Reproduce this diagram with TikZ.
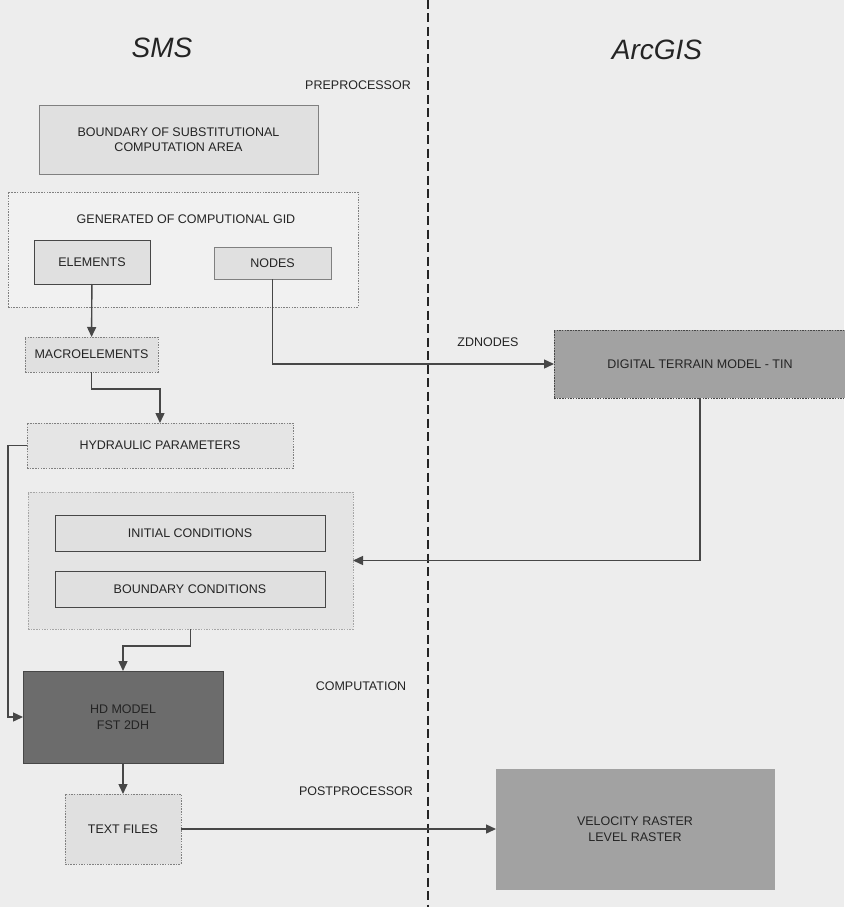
\documentclass[tikz,border=0pt]{standalone}
\usepackage{fontspec}
\setmainfont{Liberation Sans}
\usepackage{xcolor}
\usetikzlibrary{arrows.meta}

\definecolor{paper}{HTML}{EDEDED}
\definecolor{ink}{HTML}{242424}
\definecolor{wire}{HTML}{474747}
\definecolor{light}{HTML}{E0E0E0}
\definecolor{mid}{HTML}{A2A2A2}
\definecolor{dark}{HTML}{6C6C6C}

\begin{document}
\begin{tikzpicture}[x=1pt, y=-1pt, >={Triangle[length=10pt,width=9pt]},
    lbl/.style={text=ink, font=\fontsize{12.5}{15.5}\selectfont, inner sep=0pt},
    head/.style={text=ink, font=\fontsize{28}{32}\selectfont\itshape, inner sep=0pt},
    box/.style={lbl, draw=#1, line width=0.9pt, outer sep=0pt, align=center},
    dotbox/.style={box=#1, dash pattern=on 1.5pt off 1.2pt},
    link/.style={draw=wire, line width=1.4pt}]

    \fill[paper] (0,0) rectangle (844,907);
    \useasboundingbox (0,0) rectangle (844,907);

    \coordinate (ltop) at (428,0);
    \coordinate (lbot) at (428,907);
    \draw[line width=2.2pt, ink, dash pattern=on 9pt off 4.5pt] (ltop) -- (lbot);

    \node[head] (sms) at (162,48) {SMS};
    \node[head] (arcgis) at (657,50) {ArcGIS};
    \node[lbl] (pre) at (358,85) {PREPROCESSOR};
    \node[lbl] (zdn) at (488,342) {ZDNODES};
    \node[lbl] (comp) at (361,686) {COMPUTATION};
    \node[lbl] (post) at (356,791) {POSTPROCESSOR};

    \node[box=gray, fill=light, minimum width=279, minimum height=69] (bnd) at (178.5,139.5) {BOUNDARY OF SUBSTITUTIONAL\\COMPUTATION AREA};
    \node[dotbox=gray, fill=paper!80!white, minimum width=350, minimum height=115] (gen) at (183,249.5) {};
    \node[lbl] (genttl) at (186,219) {GENERATED OF COMPUTIONAL GID};
    \node[box=wire, fill=light, minimum width=116, minimum height=44] (elem) at (92,262) {ELEMENTS};
    \node[box=gray, fill=light, minimum width=117, minimum height=32] (nds) at (272.5,263) {NODES};
    \node[dotbox=gray, fill=light, minimum width=133, minimum height=35] (macro) at (91.5,354.5) {MACROELEMENTS};
    \node[dotbox=gray, fill=light!60!paper, minimum width=266, minimum height=45] (hyd) at (160,445.5) {HYDRAULIC PARAMETERS};
    \node[dotbox=gray!70, fill=light!70!paper, minimum width=325, minimum height=137] (cond) at (190.5,560.5) {};
    \node[box=wire, fill=light, minimum width=270, minimum height=36] (init) at (190,533) {INITIAL CONDITIONS};
    \node[box=wire, fill=light, minimum width=270, minimum height=36] (bcond) at (190,589) {BOUNDARY CONDITIONS};
    \node[box=wire, fill=dark, minimum width=200, minimum height=92] (hd) at (123,717) {HD MODEL\\FST 2DH};
    \node[dotbox=gray, fill=light, minimum width=116, minimum height=70] (txt) at (123,829) {TEXT FILES};
    \node[dotbox=wire, fill=mid, minimum width=292, minimum height=68] (dtm) at (700,364) {DIGITAL TERRAIN MODEL - TIN};
    \node[box=mid, fill=mid, minimum width=278, minimum height=120] (vel) at (635,829) {VELOCITY RASTER\\LEVEL RASTER};

    \draw[link, ->] (elem) -- (macro);
    \draw[link, ->] (macro.south) -- ++(0,17) -| (hyd.north);
    \draw[link, ->] (nds.south) |- (dtm.west);
    \draw[link, ->] (dtm.south) |- (cond.east);
    \draw[link, ->] (hyd.west) -- ++(-19,0) |- (hd.west);
    \draw[link, ->] (cond.south) -- ++(0,17) -| (hd.north);
    \draw[link, ->] (hd) -- (txt);
    \draw[link, ->] (txt) -- (vel);

\end{tikzpicture}
\end{document}
